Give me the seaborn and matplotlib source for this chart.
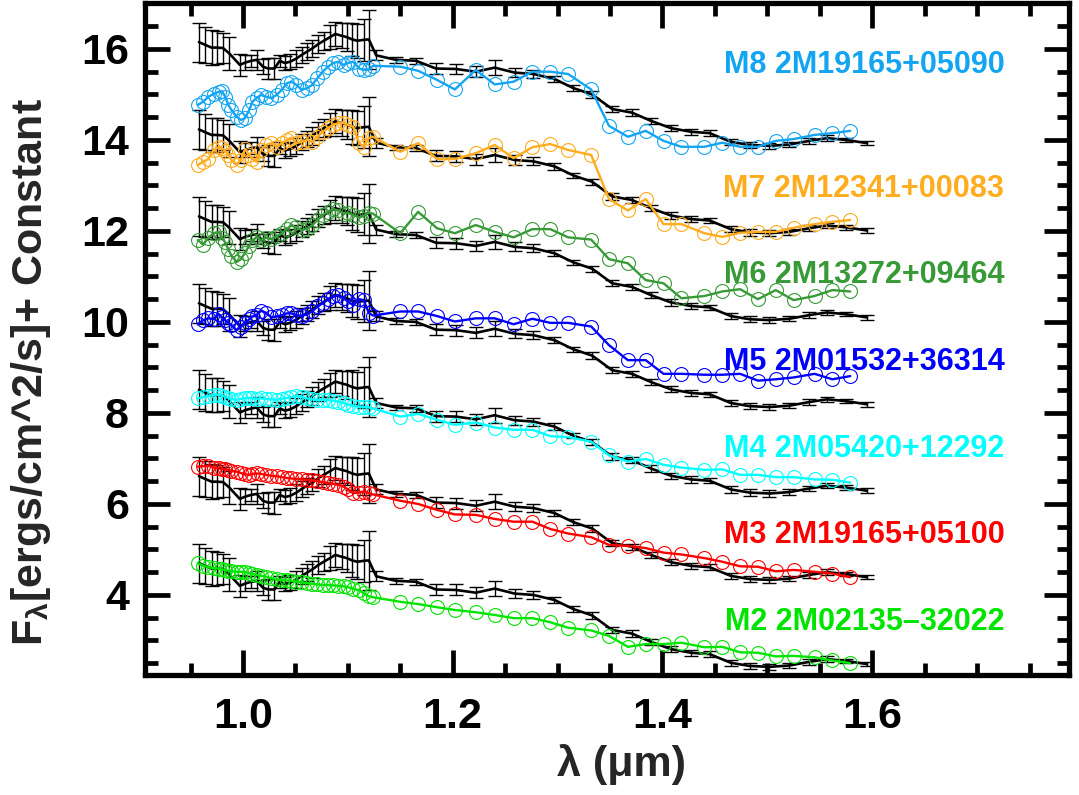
"""
plot.py
M2-M8 dwarf spectra (colored, open circles) against the offset template spectrum
(black, with error bars).  Writes out.png.
"""

import matplotlib
matplotlib.use("Agg")
import matplotlib.pyplot as plt
import numpy as np
import seaborn as sns
from matplotlib.ticker import FormatStrFormatter, MultipleLocator

# ---------------------------------------------------------------------------
STARS  = ["M8 2M19165+05090", "M7 2M12341+00083", "M6 2M13272+09464",
          "M5 2M01532+36314", "M4 2M05420+12292", "M3 2M19165+05100",
          "M2 2M02135\u201332022"]
COLORS = ["#14a5f2", "#ffac1e", "#379a37", "#0000ff", "#00ffff", "#ff0000", "#00e400"]

# colored spectra share one wavelength grid (um)
STAR_WAVE = [0.957, 0.962, 0.967, 0.972, 0.977, 0.980, 0.983, 0.986, 0.989, 0.994,
             0.998, 1.002, 1.006, 1.009, 1.013, 1.017, 1.022, 1.027, 1.032, 1.037,
             1.042, 1.046, 1.051, 1.056, 1.061, 1.066, 1.071, 1.076, 1.081, 1.086,
             1.091, 1.096, 1.100, 1.105, 1.111, 1.115, 1.120, 1.124,
             1.150, 1.167, 1.185, 1.202, 1.222, 1.240, 1.258, 1.276, 1.293, 1.310,
             1.332, 1.349, 1.367, 1.384, 1.401, 1.418, 1.440, 1.457, 1.474, 1.491,
             1.508, 1.525, 1.545, 1.562, 1.579]

M8_FLUX = [14.77, 14.84, 14.95, 15.01, 15.06, 15.07, 14.95, 14.77, 14.66, 14.51,
           14.44, 14.48, 14.66, 14.84, 14.92, 14.99, 14.95, 14.92, 14.99, 15.10,
           15.25, 15.28, 15.21, 15.10, 15.14, 15.21, 15.36, 15.50, 15.61, 15.69,
           15.72, 15.65, 15.69, 15.72, 15.57, 15.54, 15.55, 15.63,
           15.61, 15.52, 15.32, 15.11, 15.54, 15.22, 15.28, 15.50, 15.50, 15.45,
           15.11, 14.31, 14.07, 14.20, 13.98, 13.85, 13.85, 13.94, 13.85, 13.85,
           13.98, 14.02, 14.11, 14.15, 14.20]
M7_FLUX = [13.45, 13.52, 13.58, 13.78, 13.84, 13.82, 13.76, 13.68, 13.56, 13.45,
           13.56, 13.80, 13.66, 13.58, 13.52, 13.78, 13.89, 13.93, 13.85, 13.93,
           14.00, 14.05, 13.93, 13.96, 14.00, 13.96, 14.07, 14.18, 14.26, 14.33,
           14.37, 14.37, 14.33, 14.29, 13.93, 13.85, 14.04, 14.07,
           13.74, 13.93, 13.58, 13.58, 13.71, 13.89, 13.60, 13.84, 13.91, 13.78,
           13.67, 12.70, 12.45, 12.70, 12.15, 12.15, 11.95, 11.87, 11.96, 11.98,
           11.98, 12.07, 12.15, 12.20, 12.24]
M6_FLUX = [11.80, 11.70, 11.85, 11.95, 11.98, 11.85, 11.75, 11.60, 11.45, 11.32,
           11.38, 11.52, 11.68, 11.80, 11.86, 11.80, 11.85, 11.82, 11.88, 11.95,
           12.05, 12.12, 12.08, 12.02, 12.05, 12.12, 12.25, 12.35, 12.42, 12.48,
           12.45, 12.38, 12.40, 12.35, 12.30, 12.33, 12.40, 12.38,
           11.95, 12.42, 12.06, 11.95, 12.13, 11.98, 11.86, 12.04, 12.04, 11.86,
           11.81, 11.38, 11.29, 10.92, 10.85, 10.52, 10.57, 10.67, 10.72, 10.50,
           10.70, 10.48, 10.57, 10.70, 10.67]
M5_FLUX = [9.95, 10.04, 10.08, 10.06, 10.17, 10.10, 10.04, 9.98, 9.93, 9.82,
           9.89, 9.98, 10.06, 10.12, 10.15, 10.25, 10.20, 10.10, 10.12, 10.15,
           10.19, 10.19, 10.15, 10.13, 10.17, 10.23, 10.34, 10.41, 10.50, 10.56,
           10.59, 10.52, 10.45, 10.37, 10.50, 10.48, 10.20, 10.14,
           10.23, 10.23, 10.13, 10.01, 10.08, 10.08, 9.95, 10.07, 9.98, 9.98,
           9.90, 9.49, 9.16, 9.16, 8.86, 8.86, 8.84, 8.84, 8.86, 8.71,
           8.74, 8.78, 8.86, 8.74, 8.81]
M4_FLUX = [8.32, 8.35, 8.37, 8.40, 8.40, 8.38, 8.36, 8.33, 8.30, 8.29,
           8.31, 8.32, 8.33, 8.32, 8.31, 8.32, 8.31, 8.30, 8.29, 8.31,
           8.33, 8.35, 8.37, 8.35, 8.32, 8.30, 8.29, 8.29, 8.28, 8.27,
           8.25, 8.22, 8.18, 8.16, 8.14, 8.13, 8.12, 8.10,
           7.92, 7.98, 7.85, 7.74, 7.79, 7.68, 7.63, 7.63, 7.49, 7.47,
           7.37, 7.07, 6.93, 6.99, 6.86, 6.80, 6.75, 6.76, 6.64, 6.64,
           6.59, 6.59, 6.54, 6.53, 6.47]
M3_FLUX = [6.82, 6.83, 6.84, 6.80, 6.78, 6.77, 6.76, 6.75, 6.73, 6.71,
           6.68, 6.65, 6.64, 6.66, 6.67, 6.66, 6.64, 6.62, 6.61, 6.59,
           6.57, 6.56, 6.55, 6.54, 6.53, 6.52, 6.50, 6.48, 6.46, 6.44,
           6.42, 6.38, 6.32, 6.24, 6.25, 6.27, 6.24, 6.21,
           6.07, 6.00, 5.87, 5.77, 5.76, 5.67, 5.61, 5.61, 5.45, 5.35,
           5.27, 5.10, 5.08, 5.03, 4.93, 4.89, 4.81, 4.73, 4.63, 4.62,
           4.52, 4.55, 4.51, 4.47, 4.39]
M2_FLUX = [4.70, 4.64, 4.61, 4.59, 4.58, 4.56, 4.55, 4.53, 4.52, 4.51,
           4.51, 4.50, 4.48, 4.46, 4.44, 4.42, 4.40, 4.37, 4.34, 4.33,
           4.32, 4.31, 4.29, 4.28, 4.26, 4.25, 4.23, 4.22, 4.22, 4.21,
           4.20, 4.19, 4.17, 4.14, 4.10, 4.04, 3.97, 3.95,
           3.85, 3.80, 3.73, 3.67, 3.62, 3.56, 3.49, 3.49, 3.40, 3.28,
           3.22, 3.10, 2.86, 2.92, 2.92, 2.95, 2.85, 2.86, 2.74, 2.73,
           2.65, 2.66, 2.63, 2.56, 2.50]

# black template (read at the M8 level) and its constant shift per panel
TEMPLATE_WAVE = [0.958, 0.964, 0.970, 0.975, 0.981, 0.987, 0.997, 1.002, 1.008, 1.013,
                 1.019, 1.024, 1.030, 1.035, 1.040, 1.045, 1.051, 1.056, 1.061, 1.066,
                 1.072, 1.077, 1.083, 1.088, 1.094, 1.099, 1.104, 1.109, 1.115, 1.120,
                 1.127, 1.146, 1.165, 1.184, 1.203, 1.222, 1.240, 1.259, 1.277, 1.297,
                 1.315, 1.333, 1.352, 1.371, 1.389, 1.408, 1.427, 1.445, 1.465, 1.483,
                 1.502, 1.521, 1.540, 1.557, 1.575, 1.595]
TEMPLATE_FLUX = [16.15, 16.09, 16.03, 16.03, 16.02, 15.90, 15.65, 15.70, 15.74, 15.76,
                 15.61, 15.57, 15.57, 15.74, 15.69, 15.72, 15.79, 15.87, 15.94, 16.01,
                 16.11, 16.18, 16.26, 16.33, 16.29, 16.26, 16.21, 16.18, 16.20, 16.21,
                 15.86, 15.76, 15.74, 15.57, 15.56, 15.50, 15.59, 15.48, 15.45, 15.34,
                 15.14, 15.00, 14.68, 14.60, 14.42, 14.26, 14.18, 14.15, 13.96, 13.89,
                 13.87, 13.90, 13.98, 14.04, 14.00, 13.93]
TEMPLATE_ERR = [0.43, 0.40, 0.38, 0.37, 0.33, 0.36, 0.24, 0.16, 0.13, 0.22,
                0.16, 0.23, 0.24, 0.13, 0.16, 0.16, 0.18, 0.18, 0.18, 0.19,
                0.20, 0.20, 0.26, 0.26, 0.28, 0.31, 0.37, 0.37, 0.46, 0.65,
                0.11, 0.06, 0.07, 0.12, 0.12, 0.12, 0.16, 0.10, 0.09, 0.07,
                0.06, 0.07, 0.07, 0.07, 0.07, 0.07, 0.07, 0.06, 0.07, 0.07,
                0.07, 0.06, 0.06, 0.06, 0.05, 0.05]
TEMPLATE_SHIFT = [0.0, -1.92, -3.83, -5.74, -7.64, -9.54, -11.45]

STAR_FLUX = [M8_FLUX, M7_FLUX, M6_FLUX, M5_FLUX, M4_FLUX, M3_FLUX, M2_FLUX]

LABEL_X = 1.726
LABEL_Y = [15.47, 12.75, 10.85, 8.95, 7.04, 5.14, 3.23]


def main():
    sns.set_style("ticks")
    plt.rcParams["font.family"] = ["Liberation Sans", "DejaVu Sans"]
    plt.rcParams["font.weight"] = "bold"
    plt.rcParams["mathtext.fontset"] = "custom"
    plt.rcParams["mathtext.rm"] = "Liberation Sans:bold"
    plt.rcParams["mathtext.it"] = "Liberation Sans:bold"
    plt.rcParams["mathtext.bf"] = "Liberation Sans:bold"
    plt.rcParams["mathtext.default"] = "rm"

    fig = plt.figure(figsize=(10.79, 7.95), dpi=100)
    ax = fig.add_axes([0.1348, 0.1509, 0.8563, 0.8459])

    # template spectra with error bars
    for shift in TEMPLATE_SHIFT:
        flux = np.array(TEMPLATE_FLUX) + shift
        ax.errorbar(TEMPLATE_WAVE, flux, yerr=TEMPLATE_ERR, fmt="none",
                    ecolor="black", elinewidth=1.0, capsize=4.7, capthick=1.0, zorder=2)
        sns.lineplot(x=TEMPLATE_WAVE, y=flux, color="black", linewidth=1.9,
                     estimator=None, sort=False, ax=ax, zorder=3)

    # observed spectra
    for flux, color in zip(STAR_FLUX, COLORS):
        sns.lineplot(x=STAR_WAVE, y=flux, color=color, linewidth=1.7,
                     marker="o", markersize=10, markerfacecolor="none",
                     markeredgecolor=color, markeredgewidth=0.8,
                     estimator=None, sort=False, ax=ax, zorder=4)

    for name, color, y in zip(STARS, COLORS, LABEL_Y):
        ax.text(LABEL_X, y, name, color=color, fontsize=22, fontweight="bold",
                ha="right", va="baseline")

    ax.set_xlim(0.907, 1.788)
    ax.set_ylim(2.24, 17.02)
    ax.xaxis.set_major_locator(MultipleLocator(0.2))
    ax.xaxis.set_minor_locator(MultipleLocator(0.05))
    ax.yaxis.set_major_locator(MultipleLocator(2))
    ax.yaxis.set_minor_locator(MultipleLocator(0.5))
    ax.xaxis.set_major_formatter(FormatStrFormatter("%.1f"))
    ax.yaxis.set_major_formatter(FormatStrFormatter("%d"))

    ax.tick_params(which="both", direction="in", top=True, right=True,
                   width=3.4, color="black", labelsize=31, labelcolor="black")
    ax.tick_params(which="major", length=18)
    ax.tick_params(which="minor", length=9)
    ax.tick_params(axis="x", pad=16)
    ax.tick_params(axis="y", pad=12)
    for spine in ax.spines.values():
        spine.set_linewidth(3.8)
        spine.set_color("black")

    ax.set_xlabel("\u03bb (\u03bcm)", fontsize=31, fontweight="bold")
    ax.set_ylabel(r"F$_{\lambda}$[ergs/cm^2/s]+ Constant", fontsize=31, fontweight="bold")
    ax.xaxis.set_label_coords(0.515, -0.103)
    ax.yaxis.set_label_coords(-0.100, 0.45)

    fig.savefig("out.png", dpi=100)
    plt.close(fig)


if __name__ == "__main__":
    main()
